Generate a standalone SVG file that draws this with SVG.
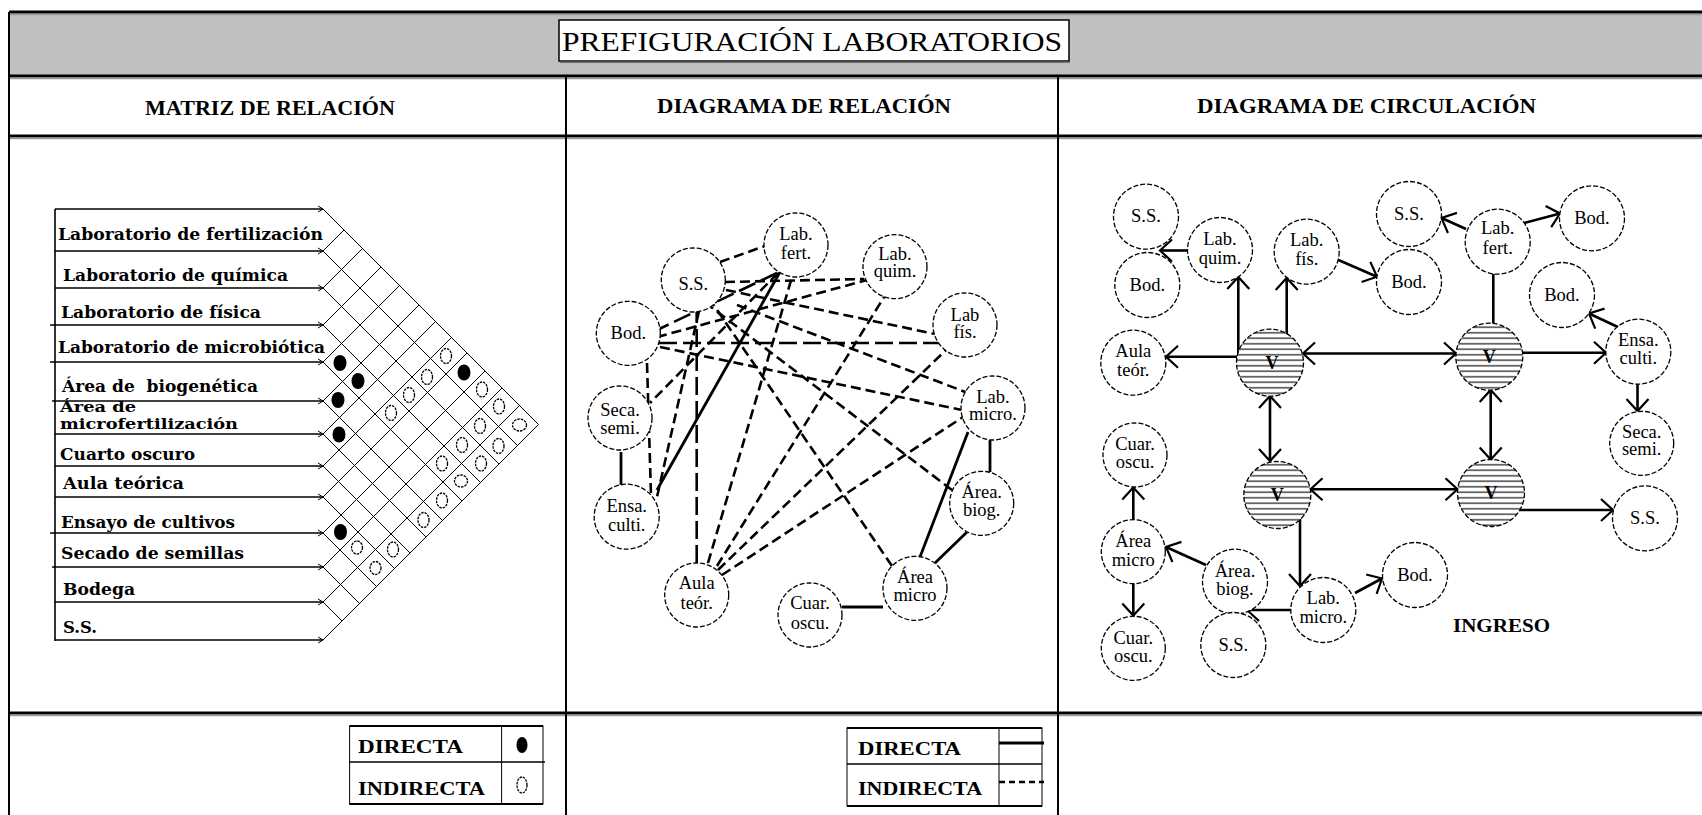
<svg xmlns="http://www.w3.org/2000/svg" width="1702" height="815" viewBox="0 0 1702 815">
<defs>
<style>
.hd{font-family:"Liberation Serif",serif;font-weight:bold;font-size:20px;fill:#000}
.ttl{font-family:"Liberation Serif",serif;font-size:27px;fill:#000}
.ml{font-family:"DejaVu Serif",serif;font-weight:bold;font-size:17px;fill:#000}
.nt{font-family:"Liberation Serif",serif;font-size:18.5px;fill:#000;text-anchor:middle}
.vt{font-family:"Liberation Serif",serif;font-weight:bold;font-size:18px;fill:#000;text-anchor:middle}
.lg{font-family:"Liberation Serif",serif;font-weight:bold;font-size:19px;fill:#000}
.nc{fill:#fff;stroke:#000;stroke-width:1.3;stroke-dasharray:5 2}
.vc{fill:url(#hatch);stroke:#000;stroke-width:1.3;stroke-dasharray:5 2}
.bl{stroke:#000;stroke-width:3;fill:none}
.gl{stroke:#9a9a9a;stroke-width:1.5;fill:none}
.vl{stroke:#000;stroke-width:2;fill:none}
.row{stroke:#000;stroke-width:1.6;fill:none;marker-end:url(#tk)}
.grid{stroke:#000;stroke-width:1;fill:none}
.fd{fill:#000}
.ho{fill:#fff;stroke:#000;stroke-width:1.3;stroke-dasharray:2.5 1}
.dir{stroke:#000;stroke-width:2.8;fill:none}
.ind{stroke:#000;stroke-width:2.6;fill:none;stroke-dasharray:10 5}
.indl{stroke:#000;stroke-width:2.6;fill:none;stroke-dasharray:18 6}
.cl{stroke:#000;stroke-width:2.6;fill:none}
.ce{marker-end:url(#ah)}
.cb{marker-start:url(#ah);marker-end:url(#ah)}
</style>
<pattern id="hatch" patternUnits="userSpaceOnUse" width="10" height="5.5">
<rect width="10" height="5.5" fill="#fff"/>
<line x1="0" y1="2.75" x2="10" y2="2.75" stroke="#000" stroke-width="1.1"/>
</pattern>
<marker id="ah" viewBox="-14 -13 16 26" refX="0" refY="0" markerWidth="16" markerHeight="26" markerUnits="userSpaceOnUse" orient="auto-start-reverse">
<path d="M-12,-11 L0,0 L-12,11" fill="none" stroke="#000" stroke-width="2.2"/>
</marker>
<marker id="tk" viewBox="-7 -4 8 8" refX="0" refY="0" markerWidth="8" markerHeight="8" markerUnits="userSpaceOnUse" orient="auto">
<path d="M-5,-3 L0,0 L-5,3" fill="none" stroke="#000" stroke-width="1"/>
</marker>
</defs>

<rect width="1702" height="815" fill="#fff"/>

<g id="frame">
<rect x="9" y="12" width="1693" height="64" fill="#c0c0c0"/>
<line class="bl" x1="9" y1="12" x2="1702" y2="12"/>
<line class="gl" x1="9" y1="14.5" x2="1702" y2="14.5"/>
<line class="bl" x1="9" y1="76" x2="1702" y2="76"/>
<line class="gl" x1="9" y1="78.5" x2="1702" y2="78.5"/>
<line class="bl" x1="9" y1="136" x2="1702" y2="136"/>
<line class="gl" x1="9" y1="138.5" x2="1702" y2="138.5"/>
<line class="bl" x1="9" y1="713" x2="1702" y2="713"/>
<line class="gl" x1="9" y1="715.5" x2="1702" y2="715.5"/>
<line class="vl" x1="9" y1="12" x2="9" y2="815"/>
<line class="vl" x1="566" y1="76" x2="566" y2="815"/>
<line class="vl" x1="1058" y1="76" x2="1058" y2="815"/>
</g>

<g id="title">
<rect x="559" y="20" width="510" height="41" fill="#fff" stroke="#000" stroke-width="1.5"/>
<line x1="560" y1="62" x2="1070" y2="62" stroke="#555" stroke-width="1.5"/>
<text class="ttl" x="562" y="51" textLength="500" lengthAdjust="spacingAndGlyphs">PREFIGURACIÓN LABORATORIOS</text>
</g>

<g id="headers">
<text class="hd" x="145" y="115" textLength="250" lengthAdjust="spacingAndGlyphs">MATRIZ DE RELACIÓN</text>
<text class="hd" x="657" y="113" textLength="294" lengthAdjust="spacingAndGlyphs">DIAGRAMA DE RELACIÓN</text>
<text class="hd" x="1197" y="113" textLength="339" lengthAdjust="spacingAndGlyphs">DIAGRAMA DE CIRCULACIÓN</text>
</g>

<!-- ================= MATRIX ================= -->
<g id="matrix">
<line class="vl" x1="55" y1="209" x2="55" y2="641" style="stroke-width:1.6"/>
<g id="matrix-rows">
<line class="row" x1="55" y1="209" x2="323" y2="209"/>
<line class="row" x1="55" y1="251" x2="323" y2="251"/>
<line class="row" x1="55" y1="288" x2="323" y2="288"/>
<line class="row" x1="50" y1="325" x2="323" y2="325"/>
<line class="row" x1="50" y1="362" x2="323" y2="362"/>
<line class="row" x1="52" y1="401" x2="323" y2="401"/>
<line class="row" x1="55" y1="434" x2="323" y2="434"/>
<line class="row" x1="55" y1="466" x2="323" y2="466"/>
<line class="row" x1="55" y1="497" x2="323" y2="497"/>
<line class="row" x1="50" y1="533" x2="323" y2="533"/>
<line class="row" x1="52" y1="567" x2="323" y2="567"/>
<line class="row" x1="55" y1="602" x2="323" y2="602"/>
<line class="row" x1="55" y1="640" x2="323" y2="640"/>
</g>
<g id="matrix-grid">
<path class="grid" d="M323,209 L538.5,424.5 M323,251 L517.5,445.5 M323,288 L499,464 M323,325 L480.5,482.5 M323,362 L462,501 M323,401 L442.5,520.5 M323,434 L426,537 M323,466 L410,553 M323,497 L394.5,568.5 M323,533 L376.5,586.5 M323,567 L359.5,603.5 M323,602 L342,621"/>
<path class="grid" d="M323,251 L344,230 M323,288 L362.5,248.5 M323,325 L381,267 M323,362 L399.5,285.5 M323,401 L419,305 M323,434 L435.5,321.5 M323,466 L451.5,337.5 M323,497 L467,353 M323,533 L485,371 M323,567 L502,388 M323,602 L519.5,405.5 M323,640 L538.5,424.5"/>
</g>
<g id="matrix-labels">
<text class="ml" x="58" y="240" textLength="265" lengthAdjust="spacingAndGlyphs">Laboratorio de fertilización</text>
<text class="ml" x="63" y="281" textLength="225" lengthAdjust="spacingAndGlyphs">Laboratorio de química</text>
<text class="ml" x="61" y="318" textLength="200" lengthAdjust="spacingAndGlyphs">Laboratorio de física</text>
<text class="ml" x="58" y="353" textLength="267" lengthAdjust="spacingAndGlyphs">Laboratorio de microbiótica</text>
<text class="ml" x="62" y="392" textLength="196" lengthAdjust="spacingAndGlyphs" xml:space="preserve">Área de  biogenética</text>
<text class="ml" x="60" y="411.5" textLength="76" lengthAdjust="spacingAndGlyphs" style="font-size:15px">Área de</text>
<text class="ml" x="60" y="429" textLength="178" lengthAdjust="spacingAndGlyphs" style="font-size:15px">microfertilización</text>
<text class="ml" x="60" y="460" textLength="135" lengthAdjust="spacingAndGlyphs">Cuarto oscuro</text>
<text class="ml" x="63" y="489" textLength="121" lengthAdjust="spacingAndGlyphs">Aula teórica</text>
<text class="ml" x="61" y="528" textLength="174" lengthAdjust="spacingAndGlyphs">Ensayo de cultivos</text>
<text class="ml" x="61" y="559" textLength="183" lengthAdjust="spacingAndGlyphs">Secado de semillas</text>
<text class="ml" x="63" y="595" textLength="72" lengthAdjust="spacingAndGlyphs">Bodega</text>
<text class="ml" x="63" y="633" textLength="34" lengthAdjust="spacingAndGlyphs">S.S.</text>
</g>
<g id="matrix-direct">
<ellipse class="fd" cx="340" cy="363" rx="6.5" ry="8"/>
<ellipse class="fd" cx="358" cy="381" rx="6.5" ry="8"/>
<ellipse class="fd" cx="338" cy="400" rx="6.5" ry="8"/>
<ellipse class="fd" cx="464" cy="372.5" rx="6.5" ry="8"/>
<ellipse class="fd" cx="339" cy="434.5" rx="6.5" ry="8"/>
<ellipse class="fd" cx="340.5" cy="532" rx="6.5" ry="8"/>
</g>
<g id="matrix-indirect">
<ellipse class="ho" cx="446" cy="356" rx="5.5" ry="7.5"/>
<ellipse class="ho" cx="427" cy="377" rx="5.5" ry="7.5"/>
<ellipse class="ho" cx="409" cy="395" rx="5.5" ry="7.5"/>
<ellipse class="ho" cx="391" cy="413" rx="5.5" ry="7.5"/>
<ellipse class="ho" cx="482" cy="389.5" rx="5.5" ry="7.5"/>
<ellipse class="ho" cx="499" cy="406.5" rx="5.5" ry="7.5"/>
<ellipse class="ho" cx="519.5" cy="425" rx="7" ry="6"/>
<ellipse class="ho" cx="480" cy="426" rx="5.5" ry="7.5"/>
<ellipse class="ho" cx="498.5" cy="446" rx="5.5" ry="7.5"/>
<ellipse class="ho" cx="462" cy="445" rx="5.5" ry="7.5"/>
<ellipse class="ho" cx="481" cy="463.5" rx="5.5" ry="7.5"/>
<ellipse class="ho" cx="442" cy="463.5" rx="5.5" ry="7.5"/>
<ellipse class="ho" cx="461" cy="481" rx="6.5" ry="6"/>
<ellipse class="ho" cx="442" cy="500.5" rx="5.5" ry="7.5"/>
<ellipse class="ho" cx="423.5" cy="520" rx="5.5" ry="7.5"/>
<ellipse class="ho" cx="357" cy="547.5" rx="5.5" ry="6.5"/>
<ellipse class="ho" cx="393" cy="549.5" rx="5.5" ry="7.5"/>
<ellipse class="ho" cx="375.5" cy="568" rx="5.5" ry="6.5"/>
</g>
</g>

<!-- ================= RELATION DIAGRAM ================= -->
<g id="relation-connectors">
<path class="ind" d="M720,262 L765,246"/>
<path class="ind" d="M725,282 L864,279"/>
<path class="ind" d="M657,337 L867,280"/>
<path class="ind" d="M726,290 L935,334"/>
<path class="indl" d="M659,343 L940,343"/>
<path class="ind" d="M737,305 L968,393"/>
<path class="ind" d="M660,347 L962,410"/>
<path class="indl" d="M777,273 L657,330"/>
<path class="ind" d="M778,273 L650,403"/>
<path class="ind" d="M647,363 L651,495"/>
<path class="ind" d="M699,311 L657,497"/>
<path class="indl" d="M696.7,563 L696.7,312"/>
<path class="ind" d="M708,563 L792,277"/>
<path class="ind" d="M717,566 L886,294"/>
<path class="ind" d="M718,570 L946,350"/>
<path class="ind" d="M722,575 L963,417"/>
<path class="ind" d="M892,566 L713,304"/>
<path class="ind" d="M952,490 L711,307"/>
<path class="dir" d="M780,272 L657,490"/>
<path class="dir" d="M990,440 L990,472"/>
<path class="dir" d="M968,432 L920,557"/>
<path class="dir" d="M967,532 L935,563"/>
<path class="dir" d="M842,607 L883,607"/>
<path class="dir" d="M621,452 L621,485"/>
</g>
<g id="r-labfert"><circle class="nc" cx="796" cy="245" r="32"/><text class="nt" x="796" y="240">Lab.</text><text class="nt" x="796" y="259">fert.</text></g>
<g id="r-ss"><circle class="nc" cx="693.3" cy="280" r="32"/><text class="nt" x="693.3" y="290">S.S.</text></g>
<g id="r-labquim"><circle class="nc" cx="895" cy="266.7" r="32"/><text class="nt" x="895" y="260">Lab.</text><text class="nt" x="895" y="277">quim.</text></g>
<g id="r-bod"><circle class="nc" cx="628.3" cy="333.3" r="32"/><text class="nt" x="628.3" y="339">Bod.</text></g>
<g id="r-labfis"><circle class="nc" cx="965" cy="325" r="32"/><text class="nt" x="965" y="321">Lab</text><text class="nt" x="965" y="338">fís.</text></g>
<g id="r-labmicro"><circle class="nc" cx="993" cy="408" r="32"/><text class="nt" x="993" y="403">Lab.</text><text class="nt" x="993" y="420">micro.</text></g>
<g id="r-seca"><circle class="nc" cx="620" cy="418" r="32"/><text class="nt" x="620" y="416">Seca.</text><text class="nt" x="620" y="434">semi.</text></g>
<g id="r-ensa"><circle class="nc" cx="626.7" cy="516.7" r="32.5"/><text class="nt" x="626.7" y="512">Ensa.</text><text class="nt" x="626.7" y="531">culti.</text></g>
<g id="r-areabiog"><circle class="nc" cx="981.7" cy="503.3" r="32"/><text class="nt" x="981.7" y="498">Área.</text><text class="nt" x="981.7" y="516">biog.</text></g>
<g id="r-aula"><circle class="nc" cx="696.7" cy="595" r="32"/><text class="nt" x="696.7" y="589">Aula</text><text class="nt" x="696.7" y="609">teór.</text></g>
<g id="r-areamicro"><circle class="nc" cx="915" cy="588.3" r="32"/><text class="nt" x="915" y="583">Área</text><text class="nt" x="915" y="601">micro</text></g>
<g id="r-cuar"><circle class="nc" cx="810" cy="615" r="32"/><text class="nt" x="810" y="609">Cuar.</text><text class="nt" x="810" y="629">oscu.</text></g>

<!-- ================= CIRCULATION DIAGRAM ================= -->
<g id="circulation-connectors">
<path class="cl ce" d="M1187,250.5 L1160,250.5"/>
<path class="cl ce" d="M1238.3,356.7 L1238.3,277"/>
<path class="cl ce" d="M1286.7,334 L1286.7,278"/>
<path class="cl ce" d="M1336.7,259.3 L1377,276.7"/>
<path class="cl ce" d="M1238.3,356.7 L1166,356.7"/>
<path class="cl cb" d="M1303,353.5 L1456,353.5"/>
<path class="cl cb" d="M1270,396 L1270,461"/>
<path class="cl" d="M1493.3,273.5 L1493.3,323.5"/>
<path class="cl ce" d="M1466,229 L1441.5,218"/>
<path class="cl ce" d="M1524,223 L1560,213.5"/>
<path class="cl ce" d="M1522.5,352.7 L1606,352.7"/>
<path class="cl ce" d="M1620,328 L1589,313.5"/>
<path class="cl ce" d="M1637.5,384 L1637.5,411"/>
<path class="cl cb" d="M1490.7,390 L1490.7,459.5"/>
<path class="cl cb" d="M1310.5,489.3 L1457.5,489.3"/>
<path class="cl ce" d="M1518,510 L1613,510"/>
<path class="cl ce" d="M1300,519 L1300,586"/>
<path class="cl ce" d="M1291,610 L1247,610"/>
<path class="cl ce" d="M1355,593 L1382,578.5"/>
<path class="cl ce" d="M1206,565 L1166,547"/>
<path class="cl ce" d="M1133.3,519.5 L1133.3,487.5"/>
<path class="cl ce" d="M1133.3,584 L1133.3,615.5"/>
</g>
<g id="c-ss1"><circle class="nc" cx="1146" cy="216.7" r="32.5"/><text class="nt" x="1146" y="222">S.S.</text></g>
<g id="c-bod1"><circle class="nc" cx="1147.3" cy="285" r="32.5"/><text class="nt" x="1147.3" y="291">Bod.</text></g>
<g id="c-labquim"><circle class="nc" cx="1220" cy="250" r="32.5"/><text class="nt" x="1220" y="245">Lab.</text><text class="nt" x="1220" y="264">quim.</text></g>
<g id="c-labfis"><circle class="nc" cx="1306.7" cy="251.7" r="32.5"/><text class="nt" x="1306.7" y="246">Lab.</text><text class="nt" x="1306.7" y="265">fís.</text></g>
<g id="c-ss2"><circle class="nc" cx="1409" cy="214" r="32.5"/><text class="nt" x="1409" y="220">S.S.</text></g>
<g id="c-bod2"><circle class="nc" cx="1409" cy="282" r="32.5"/><text class="nt" x="1409" y="288">Bod.</text></g>
<g id="c-labfert"><circle class="nc" cx="1497.7" cy="241.7" r="32.5"/><text class="nt" x="1497.7" y="234">Lab.</text><text class="nt" x="1497.7" y="254">fert.</text></g>
<g id="c-bod3"><circle class="nc" cx="1592" cy="218.3" r="32.5"/><text class="nt" x="1592" y="224">Bod.</text></g>
<g id="c-bod4"><circle class="nc" cx="1562" cy="295" r="32.5"/><text class="nt" x="1562" y="301">Bod.</text></g>
<g id="c-ensa"><circle class="nc" cx="1638.3" cy="351.7" r="32.5"/><text class="nt" x="1638.3" y="346">Ensa.</text><text class="nt" x="1638.3" y="364">culti.</text></g>
<g id="c-seca"><circle class="nc" cx="1641.7" cy="443.3" r="32"/><text class="nt" x="1641.7" y="438">Seca.</text><text class="nt" x="1641.7" y="455">semi.</text></g>
<g id="c-ss3"><circle class="nc" cx="1645" cy="518.3" r="32.5"/><text class="nt" x="1645" y="524">S.S.</text></g>
<g id="c-aula"><circle class="nc" cx="1133.3" cy="362.7" r="32.5"/><text class="nt" x="1133.3" y="357">Aula</text><text class="nt" x="1133.3" y="376">teór.</text></g>
<g id="c-v1"><circle class="vc" cx="1270" cy="362.7" r="33.5"/><text class="vt" x="1272" y="369">V</text></g>
<g id="c-v2"><circle class="vc" cx="1489.3" cy="356.7" r="33.5"/><text class="vt" x="1489.3" y="363">V</text></g>
<g id="c-v3"><circle class="vc" cx="1277.3" cy="495" r="33.5"/><text class="vt" x="1277.3" y="501">V</text></g>
<g id="c-v4"><circle class="vc" cx="1491" cy="493" r="33.5"/><text class="vt" x="1491" y="499">V</text></g>
<g id="c-cuar1"><circle class="nc" cx="1135" cy="455" r="32"/><text class="nt" x="1135" y="450">Cuar.</text><text class="nt" x="1135" y="468">oscu.</text></g>
<g id="c-areamicro"><circle class="nc" cx="1133.3" cy="551.7" r="32"/><text class="nt" x="1133.3" y="547">Área</text><text class="nt" x="1133.3" y="566">micro</text></g>
<g id="c-cuar2"><circle class="nc" cx="1133.3" cy="648.3" r="32"/><text class="nt" x="1133.3" y="644">Cuar.</text><text class="nt" x="1133.3" y="662">oscu.</text></g>
<g id="c-areabiog"><circle class="nc" cx="1235" cy="581.7" r="32.5"/><text class="nt" x="1235" y="577">Área.</text><text class="nt" x="1235" y="595">biog.</text></g>
<g id="c-ss4"><circle class="nc" cx="1233.3" cy="645" r="32.5"/><text class="nt" x="1233.3" y="651">S.S.</text></g>
<g id="c-labmicro"><circle class="nc" cx="1323.3" cy="610" r="32.5"/><text class="nt" x="1323.3" y="604">Lab.</text><text class="nt" x="1323.3" y="623">micro.</text></g>
<g id="c-bod5"><circle class="nc" cx="1415" cy="575" r="32.5"/><text class="nt" x="1415" y="581">Bod.</text></g>
<g id="c-ingreso"><text class="lg" x="1453" y="632" textLength="97" lengthAdjust="spacingAndGlyphs">INGRESO</text></g>

<!-- ================= LEGENDS ================= -->
<g id="legend-matrix">
<rect x="349.6" y="726" width="193.4" height="78" fill="#fff" stroke="#000" stroke-width="1"/>
<line x1="349.6" y1="726" x2="543" y2="726" stroke="#000" stroke-width="2"/>
<line x1="349.6" y1="804" x2="543" y2="804" stroke="#000" stroke-width="2"/>
<line x1="349.6" y1="762" x2="545" y2="762" stroke="#000" stroke-width="1.5"/>
<line x1="501.6" y1="726" x2="501.6" y2="804" stroke="#000" stroke-width="1"/>
<text class="lg" x="358" y="753" textLength="105" lengthAdjust="spacingAndGlyphs">DIRECTA</text>
<text class="lg" x="358" y="795" textLength="127" lengthAdjust="spacingAndGlyphs">INDIRECTA</text>
<ellipse class="fd" cx="522" cy="745" rx="5.5" ry="8"/>
<ellipse class="ho" cx="522" cy="785" rx="5" ry="8"/>
</g>
<g id="legend-relation">
<rect x="847" y="728" width="195" height="78" fill="#fff" stroke="#000" stroke-width="1"/>
<line x1="847" y1="728" x2="1042" y2="728" stroke="#000" stroke-width="2"/>
<line x1="847" y1="806" x2="1042" y2="806" stroke="#000" stroke-width="2"/>
<line x1="847" y1="764" x2="1042" y2="764" stroke="#000" stroke-width="1.5"/>
<line x1="999" y1="728" x2="999" y2="806" stroke="#000" stroke-width="1"/>
<text class="lg" x="858" y="755" textLength="103" lengthAdjust="spacingAndGlyphs">DIRECTA</text>
<text class="lg" x="858" y="795" textLength="124" lengthAdjust="spacingAndGlyphs">INDIRECTA</text>
<line class="dir" x1="999" y1="743" x2="1044" y2="743"/>
<line x1="999" y1="782" x2="1044" y2="782" stroke="#000" stroke-width="2.6" stroke-dasharray="6 4"/>
</g>
</svg>
